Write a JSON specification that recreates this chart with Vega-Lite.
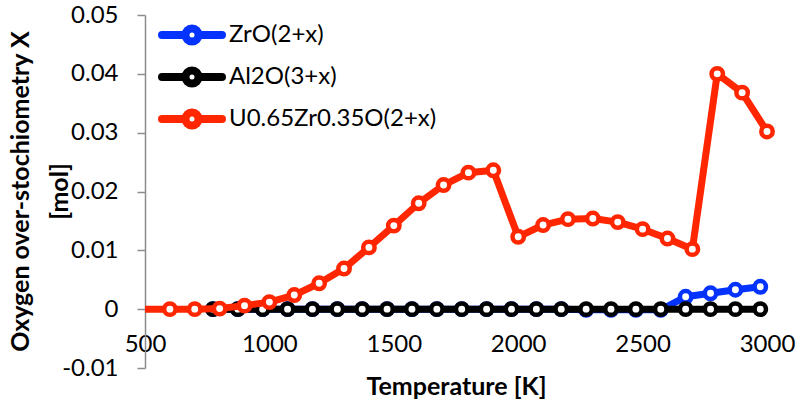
{
  "$schema": "https://vega.github.io/schema/vega-lite/v6.json",
  "width": 622,
  "height": 353,
  "autosize": "none",
  "padding": {"left": 145, "top": 15, "right": 32, "bottom": 41},
  "background": "white",
  "config": {
    "view": {"stroke": null},
    "font": "Lato",
    "axis": {"labelFont": "Lato", "titleFont": "Lato", "labelColor": "black", "titleColor": "black", "grid": false}
  },
  "datasets": {
    "pts": [
      {"series": "ZrO(2+x)", "T": 773, "X": 0},
      {"series": "ZrO(2+x)", "T": 873, "X": 0},
      {"series": "ZrO(2+x)", "T": 973, "X": 0},
      {"series": "ZrO(2+x)", "T": 1073, "X": 0},
      {"series": "ZrO(2+x)", "T": 1173, "X": 0},
      {"series": "ZrO(2+x)", "T": 1273, "X": 0},
      {"series": "ZrO(2+x)", "T": 1373, "X": 0},
      {"series": "ZrO(2+x)", "T": 1473, "X": 0},
      {"series": "ZrO(2+x)", "T": 1573, "X": 0},
      {"series": "ZrO(2+x)", "T": 1673, "X": 0},
      {"series": "ZrO(2+x)", "T": 1773, "X": 0},
      {"series": "ZrO(2+x)", "T": 1873, "X": 0},
      {"series": "ZrO(2+x)", "T": 1973, "X": 0},
      {"series": "ZrO(2+x)", "T": 2073, "X": 0},
      {"series": "ZrO(2+x)", "T": 2173, "X": 0},
      {"series": "ZrO(2+x)", "T": 2273, "X": -0.0001},
      {"series": "ZrO(2+x)", "T": 2373, "X": -0.0001},
      {"series": "ZrO(2+x)", "T": 2473, "X": -0.0001},
      {"series": "ZrO(2+x)", "T": 2573, "X": -0.0001},
      {"series": "ZrO(2+x)", "T": 2673, "X": 0.0021},
      {"series": "ZrO(2+x)", "T": 2773, "X": 0.0027},
      {"series": "ZrO(2+x)", "T": 2873, "X": 0.0033},
      {"series": "ZrO(2+x)", "T": 2973, "X": 0.0038},
      {"series": "Al2O(3+x)", "T": 773, "X": 0},
      {"series": "Al2O(3+x)", "T": 873, "X": 0},
      {"series": "Al2O(3+x)", "T": 973, "X": 0},
      {"series": "Al2O(3+x)", "T": 1073, "X": 0},
      {"series": "Al2O(3+x)", "T": 1173, "X": 0},
      {"series": "Al2O(3+x)", "T": 1273, "X": 0},
      {"series": "Al2O(3+x)", "T": 1373, "X": 0},
      {"series": "Al2O(3+x)", "T": 1473, "X": 0},
      {"series": "Al2O(3+x)", "T": 1573, "X": 0},
      {"series": "Al2O(3+x)", "T": 1673, "X": 0},
      {"series": "Al2O(3+x)", "T": 1773, "X": 0},
      {"series": "Al2O(3+x)", "T": 1873, "X": 0},
      {"series": "Al2O(3+x)", "T": 1973, "X": 0},
      {"series": "Al2O(3+x)", "T": 2073, "X": 0},
      {"series": "Al2O(3+x)", "T": 2173, "X": 0},
      {"series": "Al2O(3+x)", "T": 2273, "X": 0},
      {"series": "Al2O(3+x)", "T": 2373, "X": 0},
      {"series": "Al2O(3+x)", "T": 2473, "X": 0},
      {"series": "Al2O(3+x)", "T": 2573, "X": 0},
      {"series": "Al2O(3+x)", "T": 2673, "X": 0},
      {"series": "Al2O(3+x)", "T": 2773, "X": 0},
      {"series": "Al2O(3+x)", "T": 2873, "X": 0},
      {"series": "Al2O(3+x)", "T": 2973, "X": 0},
      {"series": "U0.65Zr0.35O(2+x)", "T": 400, "X": 0},
      {"series": "U0.65Zr0.35O(2+x)", "T": 600, "X": 0},
      {"series": "U0.65Zr0.35O(2+x)", "T": 700, "X": 0},
      {"series": "U0.65Zr0.35O(2+x)", "T": 800, "X": 0.0001},
      {"series": "U0.65Zr0.35O(2+x)", "T": 900, "X": 0.0006},
      {"series": "U0.65Zr0.35O(2+x)", "T": 1000, "X": 0.0012},
      {"series": "U0.65Zr0.35O(2+x)", "T": 1100, "X": 0.0024},
      {"series": "U0.65Zr0.35O(2+x)", "T": 1200, "X": 0.0044},
      {"series": "U0.65Zr0.35O(2+x)", "T": 1300, "X": 0.0069},
      {"series": "U0.65Zr0.35O(2+x)", "T": 1400, "X": 0.0105},
      {"series": "U0.65Zr0.35O(2+x)", "T": 1500, "X": 0.0142},
      {"series": "U0.65Zr0.35O(2+x)", "T": 1600, "X": 0.018},
      {"series": "U0.65Zr0.35O(2+x)", "T": 1700, "X": 0.0211},
      {"series": "U0.65Zr0.35O(2+x)", "T": 1800, "X": 0.0232},
      {"series": "U0.65Zr0.35O(2+x)", "T": 1900, "X": 0.0236},
      {"series": "U0.65Zr0.35O(2+x)", "T": 2000, "X": 0.0123},
      {"series": "U0.65Zr0.35O(2+x)", "T": 2100, "X": 0.0143},
      {"series": "U0.65Zr0.35O(2+x)", "T": 2200, "X": 0.0153},
      {"series": "U0.65Zr0.35O(2+x)", "T": 2300, "X": 0.0154},
      {"series": "U0.65Zr0.35O(2+x)", "T": 2400, "X": 0.0148},
      {"series": "U0.65Zr0.35O(2+x)", "T": 2500, "X": 0.0136},
      {"series": "U0.65Zr0.35O(2+x)", "T": 2600, "X": 0.012},
      {"series": "U0.65Zr0.35O(2+x)", "T": 2700, "X": 0.0102},
      {"series": "U0.65Zr0.35O(2+x)", "T": 2800, "X": 0.04},
      {"series": "U0.65Zr0.35O(2+x)", "T": 2900, "X": 0.0368},
      {"series": "U0.65Zr0.35O(2+x)", "T": 3000, "X": 0.0302}
    ]
  },
  "data": {"name": "pts"},
  "encoding": {
    "x": {
      "field": "T", "type": "quantitative",
      "scale": {"domain": [500, 3000], "nice": false, "zero": false},
      "axis": {
        "title": "Temperature [K]", "titleFontSize": 25, "titleFontWeight": "bold",
        "values": [500, 1000, 1500, 2000, 2500, 3000], "format": "d",
        "labelFontSize": 24, "ticks": false, "domain": false, "offset": -59,
        "labelPadding": 23, "titlePadding": 18, "labelFlush": false
      }
    },
    "y": {
      "field": "X", "type": "quantitative",
      "scale": {"domain": [-0.01, 0.05], "nice": false},
      "axis": {
        "title": ["Oxygen over-stochiometry X", "[mol]"],
        "titleFontSize": 25, "titleFontWeight": "bold", "titleLineHeight": 39,
        "titleX": -112, "titleY": 176,
        "values": [-0.01, 0, 0.01, 0.02, 0.03, 0.04, 0.05],
        "labelExpr": "datum.value == 0 ? '0' : (datum.value < 0 ? '-' : '') + format(abs(datum.value), '.2f')",
        "labelFontSize": 24, "tickSize": 8, "tickColor": "#8c8c8c", "domainColor": "#8c8c8c",
        "tickWidth": 1.5, "domainWidth": 1.5, "labelPadding": 19
      }
    },
    "stroke": {
      "field": "series", "type": "nominal",
      "scale": {
        "domain": ["ZrO(2+x)", "Al2O(3+x)", "U0.65Zr0.35O(2+x)"],
        "range": ["#0433ff", "#000000", "#ff2600"]
      },
      "legend": {
        "title": null, "orient": "none", "legendX": 33, "legendY": 6,
        "symbolType": "M-3,0H-0.65M0.65,0H3M-0.65,0A0.65,0.65,0,1,1,0.65,0A0.65,0.65,0,1,1,-0.65,0Z",
        "symbolSize": 400, "symbolStrokeWidth": 8, "symbolFillColor": "white",
        "labelFontSize": 24, "labelColor": "black", "labelOffset": 23, "labelLimit": 0,
        "rowPadding": -4, "padding": 0,
        "encode": {"symbols": {"update": {"strokeCap": {"value": "round"}, "fill": {"value": "white"}, "opacity": {"value": 1}}}}
      }
    }
  },
  "layer": [
    {
      "transform": [{"filter": "datum.series == 'ZrO(2+x)'"}],
      "layer": [
        {"mark": {"type": "line", "strokeWidth": 7, "clip": true, "strokeJoin": "round"}},
        {"transform": [{"filter": "datum.T >= 500"}], "mark": {"type": "point", "shape": "circle", "size": 130, "fill": "white", "filled": false, "opacity": 1, "strokeWidth": 4.5}}
      ]
    },
    {
      "transform": [{"filter": "datum.series == 'Al2O(3+x)'"}],
      "layer": [
        {"mark": {"type": "line", "strokeWidth": 7, "clip": true, "strokeJoin": "round"}},
        {"transform": [{"filter": "datum.T >= 500"}], "mark": {"type": "point", "shape": "circle", "size": 130, "fill": "white", "filled": false, "opacity": 1, "strokeWidth": 4.5}}
      ]
    },
    {
      "transform": [{"filter": "datum.series == 'U0.65Zr0.35O(2+x)'"}],
      "layer": [
        {"mark": {"type": "line", "strokeWidth": 7, "clip": true, "strokeJoin": "round"}},
        {"transform": [{"filter": "datum.T >= 500"}], "mark": {"type": "point", "shape": "circle", "size": 130, "fill": "white", "filled": false, "opacity": 1, "strokeWidth": 4.5}}
      ]
    }
  ]
}
